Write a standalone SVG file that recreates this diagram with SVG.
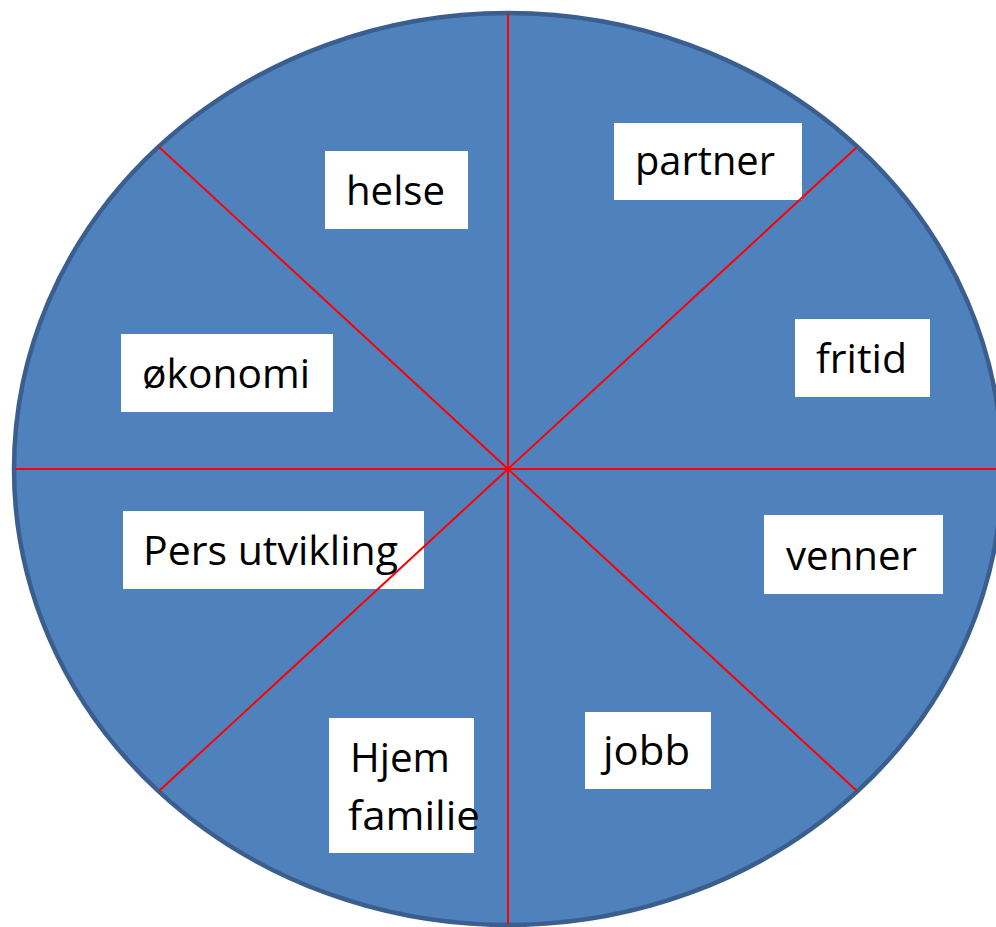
<svg xmlns="http://www.w3.org/2000/svg" width="996" height="927" viewBox="0 0 996 927">
<style>
.bg{fill:#ffffff}
.wheel{fill:#4f81bd;stroke:#3a5f8e;stroke-width:4.5}
.spoke{stroke:#ff0000;stroke-width:2;fill:none}
.box{fill:#ffffff}
.lbl{font-family:"Open Sans","Noto Sans","Liberation Sans",sans-serif;font-size:40px;fill:#000000}
</style>
<rect class="bg" x="0" y="0" width="996" height="927"/>
<g id="wheel">
<ellipse class="wheel" cx="508" cy="469" rx="494" ry="456"/>
</g>
<g id="helse">
<rect class="box" x="325" y="151" width="143" height="78"/>
<text class="lbl" x="346" y="205" textLength="99" lengthAdjust="spacingAndGlyphs">helse</text>
</g>
<g id="partner">
<rect class="box" x="614" y="123" width="188" height="77"/>
<text class="lbl" x="635" y="175" textLength="140" lengthAdjust="spacingAndGlyphs">partner</text>
</g>
<g id="fritid">
<rect class="box" x="795" y="319" width="135" height="78"/>
<text class="lbl" x="816" y="373" textLength="91" lengthAdjust="spacingAndGlyphs">fritid</text>
</g>
<g id="okonomi">
<rect class="box" x="121" y="334" width="212" height="78"/>
<text class="lbl" x="142" y="388" textLength="168" lengthAdjust="spacingAndGlyphs">økonomi</text>
</g>
<g id="pers-utvikling">
<rect class="box" x="123" y="511" width="301" height="78"/>
<text class="lbl" x="143" y="565" textLength="255" lengthAdjust="spacingAndGlyphs">Pers utvikling</text>
</g>
<g id="venner">
<rect class="box" x="764" y="515" width="179" height="79"/>
<text class="lbl" x="786" y="570" textLength="131" lengthAdjust="spacingAndGlyphs">venner</text>
</g>
<g id="jobb">
<rect class="box" x="585" y="712" width="126" height="77"/>
<text class="lbl" x="603" y="765" textLength="87" lengthAdjust="spacingAndGlyphs">jobb</text>
</g>
<g id="hjem-familie">
<rect class="box" x="329" y="718" width="145" height="135"/>
<text class="lbl" x="350" y="772" textLength="100" lengthAdjust="spacingAndGlyphs">Hjem</text>
<text class="lbl" x="348" y="830" textLength="132" lengthAdjust="spacingAndGlyphs">familie</text>
</g>
<g id="connectors">
<line class="spoke" x1="508" y1="14" x2="508" y2="924"/>
<line class="spoke" x1="15" y1="469" x2="1001" y2="469"/>
<line class="spoke" x1="159" y1="147" x2="857" y2="791"/>
<line class="spoke" x1="857" y1="147" x2="159" y2="791"/>
</g>
</svg>
